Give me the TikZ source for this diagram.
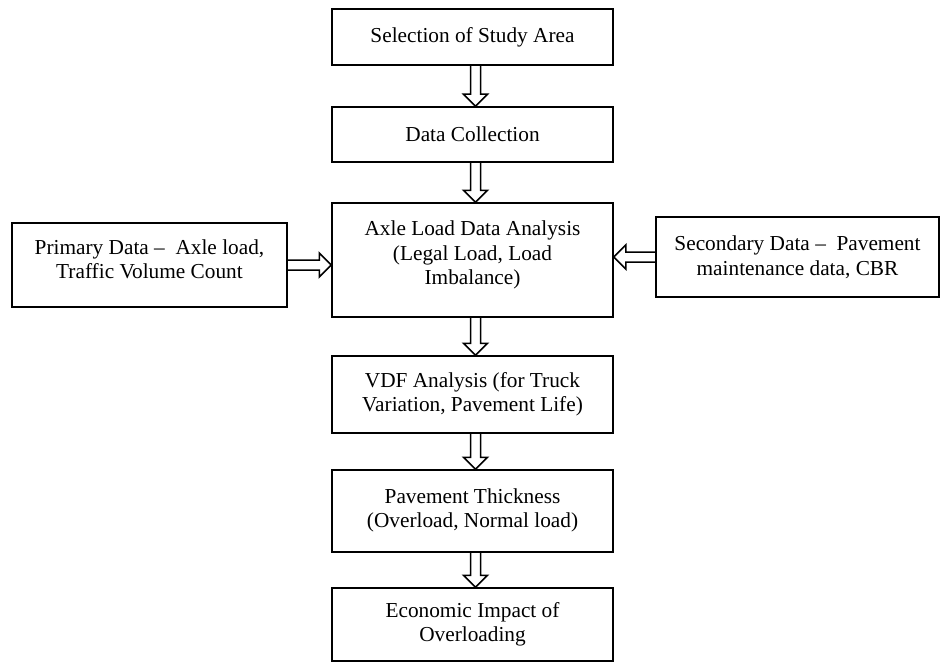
\documentclass[tikz,border=0pt]{standalone}
\usepackage{fontspec}
\setmainfont{Liberation Serif}
\usetikzlibrary{calc}

% hollow block arrow between two anchors
\newcommand{\hollowarrow}[2]{%
  \coordinate (neck) at ($(#2)!12pt!(#1)$);
  \draw[line width=1.5pt] ($(#1)!5pt!90:(#2)$) -- ($(neck)!5pt!90:(#2)$) -- ($(neck)!12pt!90:(#2)$) -- (#2)
     -- ($(neck)!12pt!-90:(#2)$) -- ($(neck)!5pt!-90:(#2)$) -- ($(#1)!5pt!-90:(#2)$);
}

\begin{document}
\begin{tikzpicture}[x=1pt,y=-1pt,
    block/.style={draw,rectangle,line width=1.5pt,align=center,minimum width=281,font=\fontsize{21.3}{24.5}\selectfont}]
        \useasboundingbox (0,0) rectangle (941,663);
        \node[block,minimum height=56] (area) at (472.5,37) {Selection of Study Area};
        \node[block,minimum height=55] (collect) at (472.5,134.5) {Data Collection};
        \node[block,minimum height=114,text depth=14pt] (axle) at (472.5,260) {Axle Load Data Analysis\\(Legal Load, Load\\Imbalance)};
        \node[block,minimum width=275,minimum height=84,text depth=12pt] (primary) at (149.5,265) {Primary Data --\ \ Axle load,\\Traffic Volume Count};
        \node[block,minimum width=283,minimum height=80] (secondary) at (797.5,257) {Secondary Data --\ \ Pavement\\maintenance data, CBR};
        \node[block,minimum height=77] (vdf) at (472.5,394.5) {VDF Analysis (for Truck\\Variation, Pavement Life)};
        \node[block,minimum height=82,text depth=6pt] (thick) at (472.5,511) {Pavement Thickness\\(Overload, Normal load)};
        \node[block,minimum height=73] (impact) at (472.5,624.5) {Economic Impact of\\Overloading};
        \hollowarrow{[xshift=3pt]area.south}{[xshift=3pt]collect.north}
        \hollowarrow{[xshift=3pt]collect.south}{[xshift=3pt]axle.north}
        \hollowarrow{primary.east}{axle.west |- primary.east}
        \hollowarrow{secondary.west}{axle.east |- secondary.west}
        \hollowarrow{[xshift=3pt]axle.south}{[xshift=3pt]vdf.north}
        \hollowarrow{[xshift=3pt]vdf.south}{[xshift=3pt]thick.north}
        \hollowarrow{[xshift=3pt]thick.south}{[xshift=3pt]impact.north}
    \end{tikzpicture}
\end{document}
